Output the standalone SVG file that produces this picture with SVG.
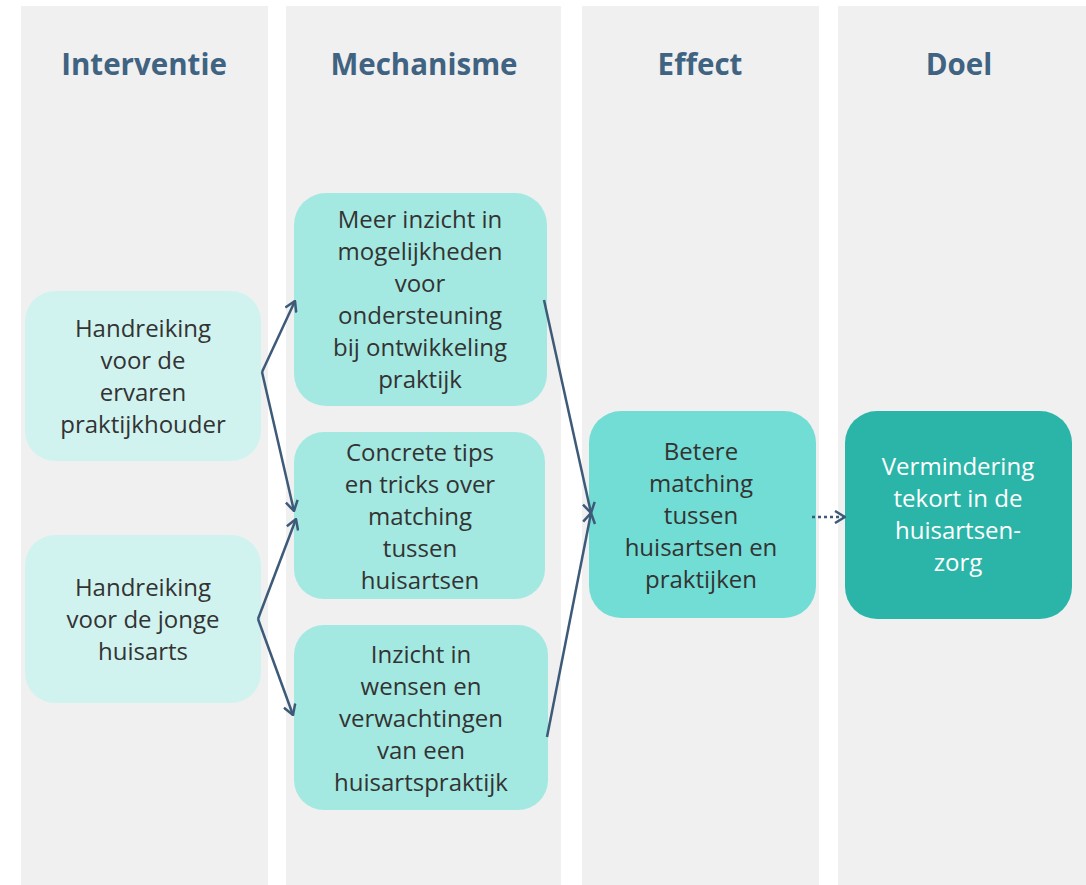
<svg xmlns="http://www.w3.org/2000/svg" width="1086" height="885" viewBox="0 0 1086 885">
<style>
.col{fill:#f0f0f0}
.hdr{font-family:"Open Sans","Noto Sans",sans-serif;font-weight:bold;font-size:29.5px;fill:#3f6381;text-anchor:middle}
.t{font-family:"Open Sans","Noto Sans",sans-serif;font-size:24px;fill:#333333;text-anchor:middle}
.tw{font-family:"Open Sans","Noto Sans",sans-serif;font-size:24px;fill:#ffffff;text-anchor:middle}
.c{stroke:#3d5a78;stroke-width:2.5;fill:none}
</style>
<defs>
<marker id="ah" viewBox="0 0 12 14" refX="11" refY="7" markerWidth="12" markerHeight="14" markerUnits="userSpaceOnUse" orient="auto">
<path d="M1,1 L11,7 L1,13" fill="none" stroke="#3d5a78" stroke-width="2.5"/>
</marker>
</defs>
<rect width="1086" height="885" fill="#ffffff"/>
<g id="columns">
<rect class="col" x="21" y="6" width="247" height="879"/>
<rect class="col" x="286" y="6" width="275" height="879"/>
<rect class="col" x="582" y="6" width="237" height="879"/>
<rect class="col" x="838" y="6" width="248" height="879"/>
<text class="hdr" x="144" y="75">Interventie</text>
<text class="hdr" x="424" y="75">Mechanisme</text>
<text class="hdr" x="700" y="75">Effect</text>
<text class="hdr" x="959" y="75">Doel</text>
</g>
<g id="n1">
<rect x="25" y="291" width="236" height="170" rx="30" fill="#d1f3f0"/>
<text class="t" x="143" y="337">Handreiking</text>
<text class="t" x="143" y="369">voor de</text>
<text class="t" x="143" y="401">ervaren</text>
<text class="t" x="143" y="433">praktijkhouder</text>
</g>
<g id="n2">
<rect x="25" y="535" width="236" height="168" rx="30" fill="#d1f3f0"/>
<text class="t" x="143" y="596">Handreiking</text>
<text class="t" x="143" y="628">voor de jonge</text>
<text class="t" x="143" y="660">huisarts</text>
</g>
<g id="m1">
<rect x="294" y="193" width="253" height="213" rx="32" fill="#a3e9e1"/>
<text class="t" x="420" y="228">Meer inzicht in</text>
<text class="t" x="420" y="260">mogelijkheden</text>
<text class="t" x="420" y="292">voor</text>
<text class="t" x="420" y="324">ondersteuning</text>
<text class="t" x="420" y="356">bij ontwikkeling</text>
<text class="t" x="420" y="388">praktijk</text>
</g>
<g id="m2">
<rect x="294" y="432" width="251" height="167" rx="30" fill="#a3e9e1"/>
<text class="t" x="420" y="461">Concrete tips</text>
<text class="t" x="420" y="493">en tricks over</text>
<text class="t" x="420" y="525">matching</text>
<text class="t" x="420" y="557">tussen</text>
<text class="t" x="420" y="589">huisartsen</text>
</g>
<g id="m3">
<rect x="294" y="625" width="254" height="185" rx="30" fill="#a3e9e1"/>
<text class="t" x="421" y="663">Inzicht in</text>
<text class="t" x="421" y="695">wensen en</text>
<text class="t" x="421" y="727">verwachtingen</text>
<text class="t" x="421" y="759">van een</text>
<text class="t" x="421" y="791">huisartspraktijk</text>
</g>
<g id="e1">
<rect x="589" y="411" width="227" height="207" rx="32" fill="#72ddd5"/>
<text class="t" x="701" y="460">Betere</text>
<text class="t" x="701" y="492">matching</text>
<text class="t" x="701" y="524">tussen</text>
<text class="t" x="701" y="556">huisartsen en</text>
<text class="t" x="701" y="588">praktijken</text>
</g>
<g id="d1">
<rect x="845" y="411" width="227" height="208" rx="32" fill="#2bb5a8"/>
<text class="tw" x="958" y="475">Vermindering</text>
<text class="tw" x="958" y="507">tekort in de</text>
<text class="tw" x="958" y="539">huisartsen-</text>
<text class="tw" x="958" y="571">zorg</text>
</g>
<g id="connectors">
<path class="c" d="M262,372 L295,301" marker-end="url(#ah)"/>
<path class="c" d="M262,372 L294,511" marker-end="url(#ah)"/>
<path class="c" d="M258,619 L296,519" marker-end="url(#ah)"/>
<path class="c" d="M258,619 L293,715" marker-end="url(#ah)"/>
<path class="c" d="M544,300 L591,513" marker-end="url(#ah)"/>
<path class="c" d="M547,737 L591,513" marker-end="url(#ah)"/>
<path class="c" d="M812,517 L845,517" stroke-dasharray="3,3" marker-end="url(#ah)"/>
</g>
</svg>
